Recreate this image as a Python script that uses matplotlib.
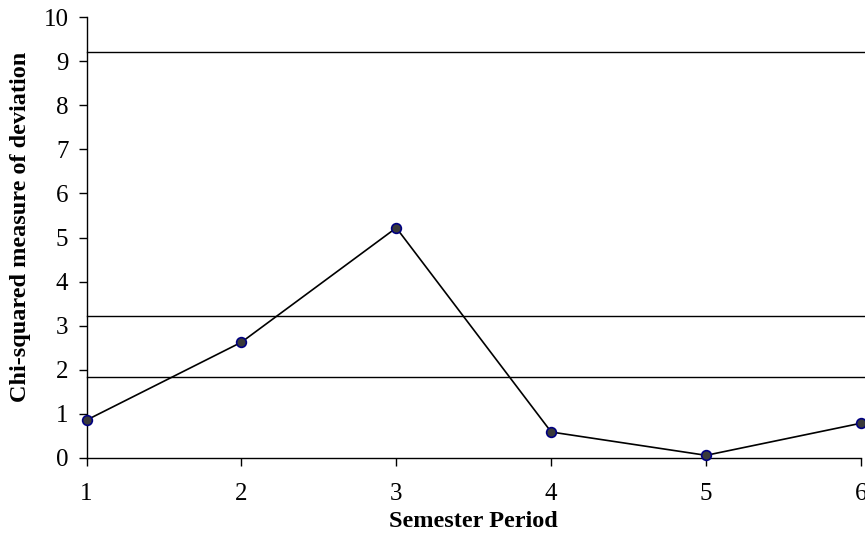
import matplotlib
matplotlib.use('Agg')
import matplotlib.pyplot as plt

# data
periods = [1, 2, 3, 4, 5, 6]
chi_sq = [0.85, 2.62, 5.22, 0.58, 0.05, 0.78]
critical_values = [9.21, 3.22, 1.83]

plt.rcParams['font.family'] = ['Liberation Serif', 'DejaVu Serif']

fig = plt.figure(figsize=(8.65, 5.36), dpi=100)
ax = fig.add_axes([0.1, 0.1464, 0.8954, 0.821])

for cv in critical_values:
    ax.axhline(cv, xmin=0, xmax=1.01, color='black', linewidth=1, clip_on=False)

ax.plot(periods, chi_sq, color='black', linewidth=1.2, marker='o', markersize=7,
        markerfacecolor='#3a3a3a', markeredgecolor='#000080', markeredgewidth=1.2,
        clip_on=False, zorder=3)

ax.set_xlim(1, 6)
ax.set_ylim(0, 10)
ax.set_xticks(periods)
ax.set_yticks(range(0, 11))

for side in ['top', 'right']:
    ax.spines[side].set_visible(False)
ax.spines['left'].set_linewidth(1)
ax.spines['bottom'].set_linewidth(1)

ax.tick_params(axis='both', direction='out', length=6, width=1, labelsize=18)
ax.tick_params(axis='y', pad=7)
ax.tick_params(axis='x', pad=12)

ax.set_xlabel('Semester Period', fontsize=17.5, fontweight='bold')
ax.set_ylabel('Chi-squared measure of deviation', fontsize=17.5, fontweight='bold')
ax.xaxis.set_label_coords(0.5, -0.122)
ax.yaxis.set_label_coords(-0.072, 0.524)

fig.savefig('out.png', dpi=100)
plt.close()
